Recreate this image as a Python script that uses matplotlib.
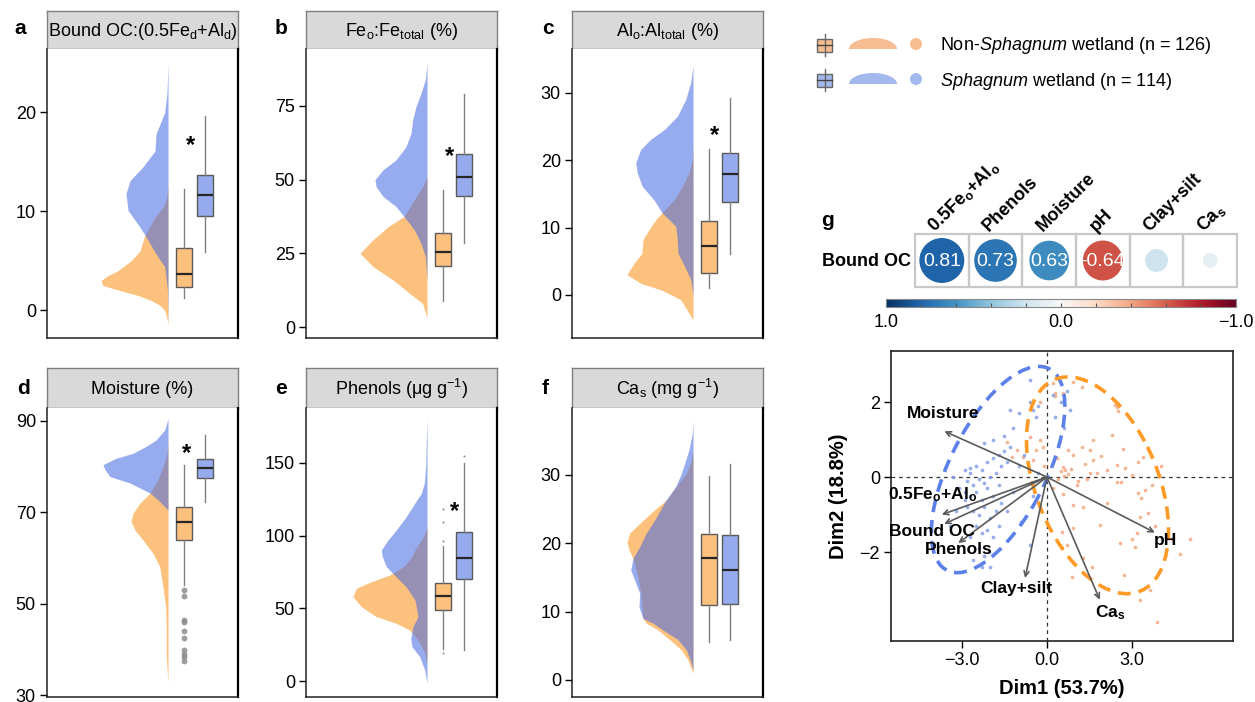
import numpy as np
import matplotlib.pyplot as plt
from matplotlib.patches import Ellipse, Circle, Rectangle, Polygon
from matplotlib.colors import Normalize
from matplotlib.cm import ScalarMappable

plt.rcParams['font.family'] = ['Liberation Sans', 'DejaVu Sans']
plt.rcParams['mathtext.fontset'] = 'custom'
plt.rcParams['mathtext.rm'] = 'Liberation Sans'
plt.rcParams['mathtext.it'] = 'Liberation Sans:italic'
plt.rcParams['mathtext.bf'] = 'Liberation Sans:bold'

# ---------------- data ----------------
titles = [r'Bound OC:(0.5Fe$_\mathrm{d}$+Al$_\mathrm{d}$)',
          r'Fe$_\mathrm{o}$:Fe$_\mathrm{total}$ (%)',
          r'Al$_\mathrm{o}$:Al$_\mathrm{total}$ (%)',
          'Moisture (%)',
          r'Phenols (μg g$^{-1}$)',
          r'Ca$_\mathrm{s}$ (mg g$^{-1}$)']
letters = ['a', 'b', 'c', 'd', 'e', 'f']
yticks = [[0, 10, 20], [0, 25, 50, 75], [0, 10, 20, 30],
          [30, 50, 70, 90], [0, 50, 100, 150], [0, 10, 20, 30]]

# half-violin outlines: value (y) and width (px) for each wetland type
a_non_y = [-1.4, -0.5, 0, 0.5, 1, 1.5, 2, 2.5, 3, 3.5, 4, 5, 6, 7, 7.6, 8.5, 9.4, 10.4, 11.2, 12.5]
a_non_w = [0, 1.7, 3.3, 8, 17, 30, 48, 65, 67, 60, 50, 37, 28, 25, 23, 18, 13, 5, 1.7, 0]
a_sph_y = [-1.4, 2, 4.4, 5.7, 7.6, 8.4, 10.1, 11.8, 13.1, 14.5, 16.1, 17.8, 20, 22, 25]
a_sph_w = [0, 0.5, 3.3, 12, 23, 28, 40, 42, 38, 25, 13, 12, 3.3, 1, 0]
b_non_y = [3, 8, 11.5, 16, 20.5, 25, 29.6, 34, 37.5, 43, 47.7, 51]
b_non_w = [0, 4.3, 17.7, 34, 54, 67, 54, 39, 23, 13, 4.3, 0]
b_sph_y = [16, 24, 28.4, 33, 37.5, 40.9, 44.3, 47.7, 50, 53.3, 56.7, 61.2, 65.7, 70.3, 74.8, 79.3, 83.8, 89.5]
b_sph_w = [0, 1.7, 6, 12.7, 23, 31, 44, 51, 52, 44, 31, 21, 16, 14.3, 11, 6, 1.7, 0]
c_non_y = [-3.7, -0.7, 0.75, 1.7, 3.0, 4.7, 6.2, 8.2, 9.7, 11.2, 12.2, 14.1, 16.1, 18.1, 20.1, 22]
c_non_w = [0, 12.3, 32, 52, 66, 59, 51, 50, 44, 37, 31, 19, 10.7, 4, 0.7, 0]
c_sph_y = [0, 2.3, 4.2, 6.2, 8.2, 10.2, 12.2, 14.1, 16.1, 18.1, 19.6, 21.6, 23.1, 24.5, 26.5, 29.0, 31.5, 34]
c_sph_w = [0, 2.3, 8.3, 15, 15.7, 17.3, 31, 39, 50.7, 55.7, 57.3, 52.3, 42.3, 29, 15.7, 7.3, 2.3, 0]
d_non_y = [32.6, 38.4, 44.2, 49.3, 53.7, 58.1, 61, 63.9, 66.1, 68, 69.8, 72, 74.2, 77.1, 80, 82.9, 85]
d_non_w = [0, 1.7, 1.7, 2.3, 5, 8.3, 15, 25, 33, 37, 35, 28, 18, 10, 5, 1, 0]
d_sph_y = [70.5, 72.7, 74.2, 76.4, 77.8, 79.3, 80.4, 81.8, 82.9, 84.4, 85.8, 88, 90.5]
d_sph_w = [0, 10, 18, 38, 58, 63, 65, 52, 35, 22, 12, 3.3, 0]
e_non_y = [12, 19.6, 28.2, 35.1, 39.7, 44.3, 51.1, 58, 63.8, 68.3, 72.9, 78.7, 84.9, 91.8, 98.6, 105]
e_non_w = [0, 2.3, 9, 17.3, 30.7, 50.7, 65.7, 74, 70.7, 55.7, 37.3, 23.3, 15.7, 10.7, 4, 0]
e_sph_y = [-1.6, 7.6, 16.7, 23.6, 29.4, 37.4, 44.3, 55.7, 64.9, 71.8, 78.7, 85.6, 90.1, 97,
           103.9, 113.1, 122.2, 129.1, 136, 147.5, 166, 180]
e_sph_w = [0, 2.3, 7.3, 15, 16.3, 14, 9, 12, 21, 31, 40.7, 44.7, 45.7, 39,
           30.7, 20.7, 12.3, 5.7, 2.7, 1.3, 0.7, 0]
f_non_y = [0.97, 2.9, 4.4, 5.9, 7.3, 8.3, 9.0, 10.5, 12.5, 15, 17.8, 19.0, 20.2, 21.5,
           22.9, 24.9, 26.3, 28.3, 30.2, 32.2, 33.7]
f_non_w = [0, 5, 11.7, 23.3, 35, 46.7, 50, 51, 52, 55, 60, 64, 66, 63.3,
           53.3, 38.3, 26.7, 16.7, 6.7, 1.7, 0]
f_sph_y = [1.5, 2.9, 4.4, 5.9, 7.3, 8.3, 9.0, 10.7, 12.7, 14.6, 16.1, 17.8, 19.5, 21.5,
           23.4, 26.3, 28.3, 30.2, 33.7, 36.1, 38]
f_sph_w = [0, 2.7, 6.7, 15, 30, 40, 50, 54, 53.3, 58.3, 62.3, 60, 53.3, 46.7,
           38.3, 27, 17.3, 11.7, 4, 0.7, 0]

# box stats: whisker low, q1, median, q3, whisker high
a_non_box = [1.2, 2.4, 3.7, 6.3, 12.3]
a_sph_box = [5.9, 9.5, 11.6, 13.7, 19.6]
b_non_box = [8.7, 20.8, 25.6, 31.8, 46.5]
b_sph_box = [28.4, 44.3, 51.0, 58.7, 79.0]
c_non_box = [1.0, 3.2, 7.3, 11.0, 21.7]
c_sph_box = [6.0, 13.8, 17.9, 21.1, 29.2]
d_non_box = [54.1, 63.9, 67.9, 71.1, 80.4]
d_sph_box = [72.2, 77.4, 79.6, 81.7, 86.8]
e_non_box = [21.8, 48.9, 58.5, 67.2, 93.1]
e_sph_box = [21.3, 70.2, 84.9, 102.8, 150.2]
f_non_box = [5.5, 10.9, 17.8, 21.4, 29.9]
f_sph_box = [5.9, 11.1, 16.1, 21.2, 31.6]
d_non_out = [53.1, 51.7, 46.4, 46.1, 44.1, 42.4, 39.9, 39.1, 38.4, 37.5]
e_non_out = [96.3, 109.4, 118.3, 19.0]
e_sph_out = [154.8]

star_y = [17.5, 60.6, 24.9, 84.7, 122, None]

# correlation of bound OC with drivers
corr_vars = [r'0.5Fe$_\mathbf{o}$+Al$_\mathbf{o}$', 'Phenols', 'Moisture', 'pH',
             'Clay+silt', r'Ca$_\mathbf{s}$']
corr_r = [0.81, 0.73, 0.63, -0.64, 0.21, 0.09]
corr_shown = [True, True, True, True, False, False]

# PCA loadings and scores
pca_vars = ['Moisture', r'0.5Fe$_\mathbf{o}$+Al$_\mathbf{o}$', 'Bound OC', 'Phenols',
            'Clay+silt', r'Ca$_\mathbf{s}$', 'pH']
load_x = [-3.61, -3.70, -3.62, -3.12, -0.77, 1.86, 3.80]
load_y = [1.22, -1.00, -1.25, -1.76, -2.69, -3.27, -1.48]
lab_x = [-3.67, -4.02, -4.04, -3.11, -1.07, 2.24, 4.17]
lab_y = [1.69, -0.47, -1.45, -1.94, -2.96, -3.61, -1.70]

pca_sph = [(-2.9, 0.2), (-2.7, 0.1), (-2.5, 0.3), (-2.3, 0.2), (-2.1, 0.4), (-1.9, 0.5),
           (-1.7, 0.6), (-1.5, 0.7), (-1.3, 0.8), (-2.8, -0.1), (-2.6, -0.2), (-2.4, -0.05),
           (-2.2, -0.15), (-2.0, 0.0), (-1.8, 0.1), (-1.6, 0.3), (-1.4, 0.4), (-3.1, -0.3),
           (-2.9, -0.4), (-2.7, -0.5), (-2.5, -0.4), (-2.3, -0.6), (-2.1, -0.3), (-1.9, -0.5),
           (-1.7, -0.2), (-2.8, -0.8), (-2.6, -0.9), (-2.4, -1.0), (-2.2, -0.8), (-2.0, -1.1),
           (-1.8, -0.9), (-1.6, -0.7), (-1.4, -0.9), (-2.5, -1.3), (-2.3, -1.5), (-2.1, -1.4),
           (-1.9, -1.6), (-1.7, -1.3), (-2.7, -1.6), (-2.4, -1.9), (-2.2, -2.1), (-2.0, -2.4),
           (-2.6, -2.2), (-2.3, -2.4), (-3.3, 0.0), (-3.2, -0.9), (-3.4, -1.3), (-1.2, -0.4),
           (-1.0, 0.3), (-0.8, 0.6), (-2.2, 0.9), (-1.9, 1.0), (-1.5, 1.1), (-1.2, 1.3),
           (-1.3, 1.8), (-1.0, 1.7), (-0.6, 2.0), (-0.5, 1.8), (-0.3, 1.9), (-0.4, 1.6),
           (-0.6, 2.6), (-0.7, 1.4), (0.3, 1.6), (0.5, 2.0), (0.7, 2.3), (0.6, 1.3),
           (0.8, 1.8), (0.2, 2.2), (-0.9, -1.2), (-0.6, -1.8), (-0.3, 0.1), (-0.5, -0.5),
           (-2.9, -0.6), (-2.7, 0.23), (-2.05, -2.0)]
pca_non = [(0.93, 2.54), (1.22, 2.41), (0.28, 2.23), (2.45, 1.88), (2.5, 1.75), (1.63, 1.0),
           (2.28, 1.12), (2.69, 0.76), (0.75, 0.72), (0.93, 0.59), (1.22, 0.81), (1.51, 0.72),
           (1.63, 0.45), (1.34, 0.36), (0.57, 0.28), (0.65, 0.18), (0.75, 0.08), (0.6, 0.02),
           (0.5, 0.15), (0.85, 0.22), (1.51, 0.10), (1.40, -0.04), (1.75, 0.1), (2.45, 0.32),
           (2.75, 0.23), (2.98, 0.05), (3.22, 0.41), (3.39, 0.54), (2.45, -0.12), (2.6, -0.12),
           (3.22, -0.43), (3.3, -0.55), (3.46, -0.35), (1.05, -0.21), (0.93, -0.74), (0.57, -0.44),
           (1.87, -1.28), (3.16, -1.5), (2.98, -1.64), (3.10, -1.86), (2.57, -1.77), (3.27, -1.06),
           (3.57, -0.97), (4.68, -2.04), (5.03, -1.64), (4.39, -1.64), (0.52, -1.46), (0.69, -1.82),
           (0.87, -2.66), (3.62, -3.02), (3.27, -3.29), (3.86, -3.86), (0.93, -1.37), (1.28, -0.8),
           (2.1, -0.7), (3.8, -1.3), (1.28, -2.17), (-1.42, 0.94), (-1.07, 0.72), (-0.72, 0.81),
           (-0.37, 0.72), (-0.49, 0.45), (-0.84, 0.54), (-0.14, 0.81), (-1.24, 0.54), (-0.6, 1.07),
           (-0.25, 0.98), (-0.25, 2.0), (0.22, 2.5), (0.57, 2.24), (0.28, 2.15), (-0.1, 0.3),
           (0.2, -0.3), (0.35, 0.5), (1.9, 0.55), (2.1, 0.2), (4.0, 0.3), (3.7, -0.2),
           (2.7, -2.6), (1.6, -2.4), (2.39, 1.93), (1.1, -0.1), (0.4, -0.05)]

ell_sph_center = (-1.72, 0.20)
ell_sph_shape = [[5.52, 3.95], [3.95, 7.56]]
ell_non_center = (1.78, -0.22)
ell_non_shape = [[6.25, -3.0], [-3.0, 8.35]]

# ---------------- figure ----------------
W, H = 1255, 702
fig = plt.figure(figsize=(12.55, 7.02), dpi=100)


def px_axes(x0, y0, x1, y1):
    return fig.add_axes([x0 / W, 1 - y1 / H, (x1 - x0) / W, (y1 - y0) / H])


ORANGE = '#FDC17E'
BLUE = '#4169E1'
BLUE_A = 0.55

non_y = [a_non_y, b_non_y, c_non_y, d_non_y, e_non_y, f_non_y]
non_w = [a_non_w, b_non_w, c_non_w, d_non_w, e_non_w, f_non_w]
sph_y = [a_sph_y, b_sph_y, c_sph_y, d_sph_y, e_sph_y, f_sph_y]
sph_w = [a_sph_w, b_sph_w, c_sph_w, d_sph_w, e_sph_w, f_sph_w]
non_box = [a_non_box, b_non_box, c_non_box, d_non_box, e_non_box, f_non_box]
sph_box = [a_sph_box, b_sph_box, c_sph_box, d_sph_box, e_sph_box, f_sph_box]
non_out = [[], [], [], d_non_out, e_non_out, []]
sph_out = [[], [], [], [], e_sph_out, []]

ylims = [(-2.8, 26.4), (-3.7, 94.3), (-6.4, 36.5), (29.6, 92.8), (-11, 187.8), (-2.5, 39.8)]
lefts = [47, 306, 572]
rows = [(11, 49, 338), (368, 408, 697)]
star_x = [143.7, 143, 143, 140, 148, 0]
flier_size = [0, 0, 0, 4.2, 1.6, 0]
BASE = 121


def stats(b, fl):
    return dict(whislo=b[0], q1=b[1], med=b[2], q3=b[3], whishi=b[4], fliers=fl)


for k in range(6):
    row, col = divmod(k, 3)
    left = lefts[col]
    st_top, st_bot, ax_bot = rows[row]
    sax = px_axes(left, st_top, left + 191, st_bot)
    sax.set_xticks([])
    sax.set_yticks([])
    sax.set_facecolor('#D9D9D9')
    for s in sax.spines.values():
        s.set_color('#7F7F7F')
        s.set_linewidth(1.0)
    sax.text(0.5, 0.47, titles[k], ha='center', va='center', fontsize=13,
             transform=sax.transAxes)

    ax = px_axes(left, st_bot, left + 191, ax_bot)
    ax.set_xlim(0, 191)
    ax.set_ylim(*ylims[k])
    ax.fill_betweenx(non_y[k], BASE - np.array(non_w[k]), BASE, color=ORANGE, lw=0)
    ax.fill_betweenx(sph_y[k], BASE - np.array(sph_w[k]), BASE, color=BLUE,
                     alpha=BLUE_A, lw=0)
    res = ax.bxp([stats(non_box[k], non_out[k]), stats(sph_box[k], sph_out[k])],
                 positions=[137, 158], widths=16, patch_artist=True, showcaps=False,
                 manage_ticks=False,
                 boxprops=dict(edgecolor='#5A5A5A', linewidth=1.0),
                 medianprops=dict(color='#262626', linewidth=1.6),
                 whiskerprops=dict(color='#808080', linewidth=1.0),
                 flierprops=dict(marker='o', markersize=flier_size[k],
                                 markerfacecolor='#8C8C8C', markeredgecolor='none',
                                 alpha=0.85))
    res['boxes'][0].set_facecolor(ORANGE)
    res['boxes'][1].set_facecolor((0.59, 0.67, 0.93))
    if star_y[k] is not None:
        ax.annotate('*', (star_x[k], star_y[k]), xytext=(0, -6),
                    textcoords='offset points', ha='center', va='center',
                    fontsize=17, fontweight='bold')
    ax.set_xticks([])
    ax.set_yticks(yticks[k])
    ax.tick_params(axis='y', length=5, width=1, labelsize=13, pad=3)
    ax.spines['top'].set_visible(False)
    for s in ['left', 'bottom']:
        ax.spines[s].set_color('#222222')
        ax.spines[s].set_linewidth(1.1)
    ax.spines['right'].set_color('black')
    ax.spines['right'].set_linewidth(1.6)

# ---------------- correlation row (g) ----------------
axg = px_axes(915, 234, 1237, 287)
axg.set_xlim(0, 6)
axg.set_ylim(0, 1)
axg.axis('off')
cmap = plt.get_cmap('RdBu')
norm = Normalize(-1, 1)
for i, r in enumerate(corr_r):
    axg.add_patch(Rectangle((i, 0), 1, 1, fill=False, ec='#C8C8C8', lw=1.6,
                            clip_on=False))
    rad = 0.465 * np.sqrt(abs(r))
    axg.add_patch(Ellipse((i + 0.5, 0.5), 2 * rad, 2 * rad * 53.7 / 53,
                          color=cmap(norm(r)), lw=0))
    if corr_shown[i]:
        axg.text(i + 0.5, 0.48, f'{r:.2f}', ha='center', va='center', color='white',
                 fontsize=14)

axc = px_axes(886, 299, 1236, 307)
cb = fig.colorbar(ScalarMappable(norm=norm, cmap=cmap), cax=axc, orientation='horizontal')
axc.set_xlim(1, -1)
cb.set_ticks([1, 0, -1])
cb.set_ticklabels(['1.0', '0.0', '\u22121.0'])
axc.set_xticks(np.arange(-0.8, 0.81, 0.2), minor=True)
axc.tick_params(which='both', direction='in', length=3, width=0.8, color='#555555',
                labelsize=13, pad=5)
cb.outline.set_edgecolor('#888888')
cb.outline.set_linewidth(0.8)

# ---------------- PCA biplot ----------------
axp = px_axes(891, 351, 1233, 641)
axp.set_xlim(-5.49, 6.55)
axp.set_ylim(-4.37, 3.36)
axp.axhline(0, color='#333333', lw=0.9, ls=(0, (3, 3)), zorder=1)
axp.axvline(0, color='#333333', lw=0.9, ls=(0, (3, 3)), zorder=1)
nx, ny = zip(*pca_non)
sx, sy = zip(*pca_sph)
axp.scatter(nx, ny, s=7, color='#F2A47C', alpha=0.8, lw=0, zorder=2)
axp.scatter(sx, sy, s=7, color='#7C9BE6', alpha=0.8, lw=0, zorder=2)


def draw_ellipse(ax, center, shape, color):
    vals, vecs = np.linalg.eigh(np.array(shape))
    ang = np.degrees(np.arctan2(vecs[1, 1], vecs[0, 1]))
    ax.add_patch(Ellipse(center, 2 * np.sqrt(vals[1]), 2 * np.sqrt(vals[0]), angle=ang,
                         fill=False, ec=color, lw=2.6, ls=(0, (3.6, 2.2)), zorder=3))


draw_ellipse(axp, ell_sph_center, ell_sph_shape, '#5B80EA')
draw_ellipse(axp, ell_non_center, ell_non_shape, '#FF9A26')
for i, name in enumerate(pca_vars):
    axp.annotate('', xy=(load_x[i], load_y[i]), xytext=(0, 0),
                 arrowprops=dict(arrowstyle='->', color='#5A5A5A', lw=1.2,
                                 mutation_scale=9, shrinkA=0, shrinkB=0), zorder=4)
    axp.text(lab_x[i], lab_y[i], name, ha='center', va='center', fontsize=12.5,
             fontweight='bold', zorder=5)
axp.set_xticks([-3, 0, 3])
axp.set_xticklabels(['\u22123.0', '0.0', '3.0'])
axp.set_yticks([-2, 0, 2])
axp.set_yticklabels(['\u22122', '0', '2'])
axp.tick_params(length=5, width=1, labelsize=13, pad=3)
for s in axp.spines.values():
    s.set_linewidth(1.2)
    s.set_color('#222222')

# ---------------- overlay: letters, legend, axis titles ----------------
ov = fig.add_axes([0, 0, 1, 1])
ov.set_xlim(0, W)
ov.set_ylim(H, 0)
ov.axis('off')
ov.patch.set_visible(False)
ov.set_zorder(10)

letter_xy = [(20, 29), (281, 29), (548, 29), (23, 388), (281, 388), (545, 388)]
for lt, (x, y) in zip(letters, letter_xy):
    ov.text(x, y, lt, ha='center', va='center', fontsize=15, fontweight='bold')
ov.text(828, 220, 'g', ha='center', va='center', fontsize=15, fontweight='bold')
ov.text(911, 262, 'Bound OC', ha='right', va='center', fontsize=13, fontweight='bold')
for i, name in enumerate(corr_vars):
    cx = 915 + 53.7 * (i + 0.5)
    ov.text(cx - 7, 232, name, rotation=45, rotation_mode='anchor', ha='left',
            va='baseline', fontsize=13, fontweight='bold')

ov.text(1062, 689, 'Dim1 (53.7%)', ha='center', va='center', fontsize=14.5,
        fontweight='bold')
ov.text(838, 496, 'Dim2 (18.8%)', ha='center', va='center', rotation=90, fontsize=14.5,
        fontweight='bold')

# legend
leg_labels = [r'Non-$\mathit{Sphagnum}$ wetland (n = 126)',
              r'$\mathit{Sphagnum}$ wetland (n = 114)']
leg_fill = ['#F6BC92', '#A3B8EC']
leg_y = [45, 80]
t = np.linspace(0, np.pi, 40)
for lab, fc, yc in zip(leg_labels, leg_fill, leg_y):
    ov.plot([824.5, 824.5], [yc - 11, yc + 11], color='#666666', lw=1)
    ov.add_patch(Rectangle((817, yc - 6.5), 15, 13, fc=fc, ec='#666666', lw=1))
    ov.plot([817, 832], [yc, yc], color='#444444', lw=1)
    hx = 873 + 24 * np.cos(t)
    hy = yc + 4 - 11 * np.sin(t)
    ov.add_patch(Polygon(np.column_stack([hx, hy]), closed=True, fc=fc, ec='none'))
    ov.add_patch(Circle((916, yc - 1), 6, fc=fc, ec='none'))
    ov.text(940, yc + 1, lab, ha='left', va='center', fontsize=13)

fig.savefig('out.png', dpi=100)
